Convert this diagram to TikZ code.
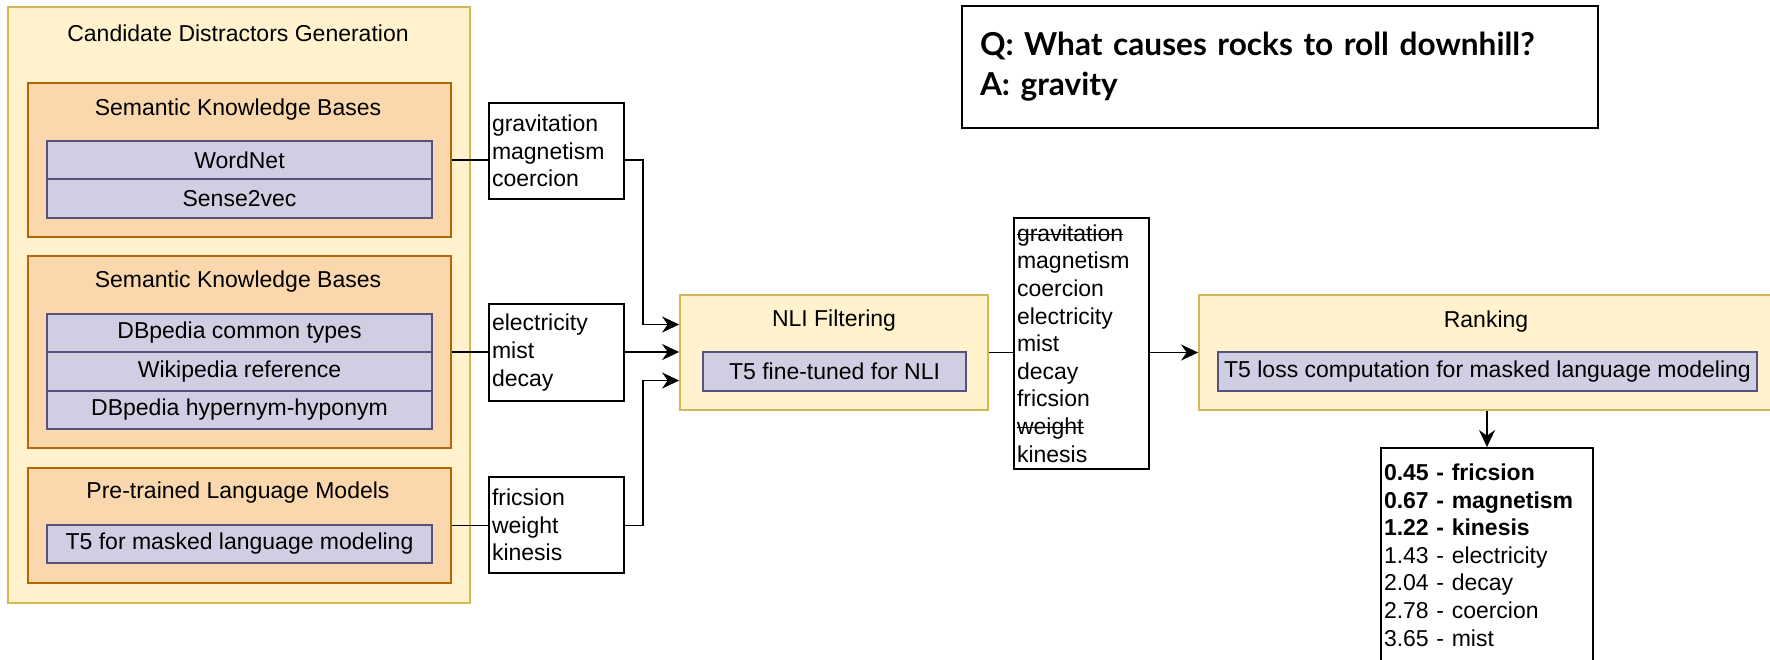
\documentclass[tikz,border=0pt]{standalone}
\usepackage{fontspec}
\setmainfont{Liberation Sans}
\newfontfamily\qafont{Lato}
\usetikzlibrary{arrows.meta}
\definecolor{genfill}{HTML}{FFF2CC}
\definecolor{genline}{HTML}{D6B656}
\definecolor{kbfill}{HTML}{FAD7AC}
\definecolor{kbline}{HTML}{B46504}
\definecolor{toolfill}{HTML}{D0CEE2}
\definecolor{toolline}{HTML}{56517E}
\newlength{\strikelen}
\newcommand{\crossout}[1]{\leavevmode\settowidth{\strikelen}{#1}\rlap{\rule[0.27em]{\strikelen}{0.7pt}}#1}

\begin{document}
\begin{tikzpicture}[x=0.5pt,y=-0.5pt,>={Stealth[length=8.5pt,width=8pt]},
    font=\fontsize{11.5}{13.8}\selectfont,line width=0.9pt]
    \tikzset{
      stage/.style={draw=genline, fill=genfill, inner sep=0pt},
      source/.style={draw=kbline, fill=kbfill, inner sep=0pt, minimum width=211.5pt},
      tool/.style={draw=toolline, fill=toolfill, inner sep=0pt, minimum height=19.25pt},
      words/.style={draw, fill=white, align=left, text width=64.5pt, inner xsep=1.5pt, inner ysep=0pt}
    }
    \useasboundingbox (0,0) rectangle (1770,659);
    \clip (0,0) rectangle (1770,659);

    % Candidate generation
    \node[stage, minimum width=231pt, minimum height=298pt] (gen) at (239,305) {};
    \node (gentitle) at (238,33) {Candidate Distractors Generation};
    \node[source, minimum height=77pt]   (kb1) at (239.5,160) {};
    \node (kb1title) at (238,110) {Semantic Knowledge Bases};
    \node[tool, minimum width=192.5pt] (wordnet) at (239.5,160)   {WordNet};
    \node[tool, minimum width=192.5pt] (sense)   at (239.5,198.5) {Sense2vec};
    \node[source, minimum height=96pt]   (kb2) at (239.5,352) {};
    \node (kb2title) at (238,282) {Semantic Knowledge Bases};
    \node[tool, minimum width=192.5pt] (dbtypes) at (239.5,333)   {DBpedia common types};
    \node[tool, minimum width=192.5pt] (wikiref) at (239.5,371.5) {Wikipedia reference};
    \node[tool, minimum width=192.5pt] (dbhyper) at (239.5,410)   {DBpedia hypernym-hyponym};
    \node[source, minimum height=57.5pt] (kb3) at (239.5,525.5) {};
    \node (kb3title) at (238,493) {Pre-trained Language Models};
    \node[tool, minimum width=192.5pt] (t5mlm) at (239.5,544) {T5 for masked language modeling};

    % Candidates per source
    \node[words, minimum height=48pt]   (words1) at (556.5,151)   {gravitation\\magnetism\\coercion};
    \node[words, minimum height=48.5pt] (words2) at (556.5,352.5) {electricity\\mist\\decay};
    \node[words, minimum height=48pt]   (words3) at (556.5,525)   {fricsion\\weight\\kinesis};

    % NLI filtering
    \node[stage, minimum width=154pt, minimum height=57.5pt] (nli) at (834,352.5) {};
    \node (nlititle) at (834,321) {NLI Filtering};
    \node[tool, minimum width=131.5pt, minimum height=19.5pt] (nlimodel) at (834.5,371.5) {T5 fine-tuned for NLI};
    \node[words, minimum height=125.5pt] (kept) at (1081.5,343.5)
      {\crossout{gravitation}\\magnetism\\coercion\\electricity\\mist\\decay\\fricsion\\\crossout{weight}\\kinesis};

    % Ranking
    \node[stage, minimum width=288pt, minimum height=57.5pt] (rank) at (1487,352.5) {};
    \node (ranktitle) at (1486,322) {Ranking};
    \node[tool, minimum width=269.5pt, minimum height=19.5pt] (rankmodel) at (1487.5,371.5)
      {T5 loss computation for masked language modeling};
    \node[words, text width=103pt, minimum height=107pt] (scores) at (1487,555)
      {\textbf{0.45 - fricsion}\\\textbf{0.67 - magnetism}\\\textbf{1.22 - kinesis}\\1.43 - electricity\\2.04 - decay\\2.78 - coercion\\3.65 - mist};

    % Question
    \node[draw, fill=white, align=left, text width=300pt, inner xsep=9pt, minimum height=61pt,
      font={\qafont\bfseries\fontsize{15.8}{20}\selectfont}] (qa) at (1280,67)
      {Q: What causes rocks to roll downhill?\\A: gravity};

    % Connectors
    \draw (kb1.east) -- (kb1.east -| words1.west);
    \draw (kb2.east) -- (kb2.east -| words2.west);
    \draw (kb3.east) -- (kb3.east -| words3.west);
    \draw[->] (kb1.east -| words1.east) -- ++(9pt,0) |- ([yshift=14pt]nli.west);
    \draw[->] (kb2.east -| words2.east) -- (kb2.east -| nli.west);
    \draw[->] (kb3.east -| words3.east) -- ++(9pt,0) |- ([yshift=-14pt]nli.west);
    \draw (nli.east) -- (nli.east -| kept.west);
    \draw[->] (nli.east -| kept.east) -- (rank.west);
    \draw[->] (rank.south) -- (scores.north);
  \end{tikzpicture}
\end{document}
